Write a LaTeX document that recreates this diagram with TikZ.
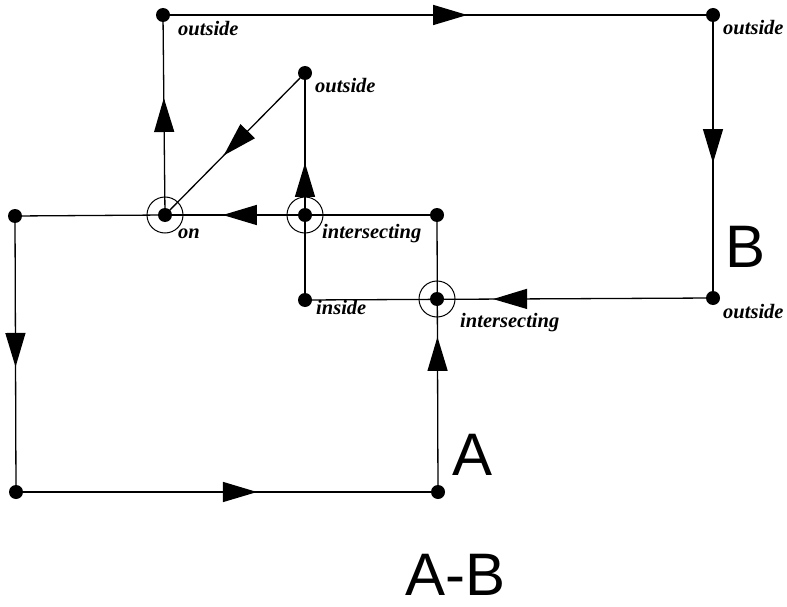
\documentclass[tikz,border=0pt]{standalone}
\usepackage{fontspec}
\setmainfont{Liberation Serif}
\newfontfamily\bigsans{Liberation Sans}
\usetikzlibrary{arrows.meta,decorations.markings}
\begin{document}
\begin{tikzpicture}[x=1pt,y=-1pt,
  edge/.style={line width=1.3pt},
  dot/.style={circle,fill=black,inner sep=0pt,minimum size=14pt},
  ring/.style={circle,draw=black,line width=1pt,inner sep=0pt,minimum size=36pt},
  lbl/.style={anchor=base west,inner sep=0pt,font=\fontsize{20.5}{20.5}\selectfont\bfseries\itshape},
  big/.style={anchor=base west,inner sep=0pt,font=\fontsize{60}{60}\selectfont\bigsans},
  midarrow/.style={decoration={markings,mark=at position #1 with {\arrow{Triangle[length=34pt,width=20pt]}}},postaction={decorate}}]
\useasboundingbox (0,0) rectangle (787,607);
% A polygon
\node[dot] (a1) at (15,216) {};
\node[dot] (a2) at (16,492) {};
\node[dot] (a3) at (438,492) {};
\node[dot] (a4) at (437,215) {};
% B polygon
\node[dot] (b1) at (163,15) {};
\node[dot] (b2) at (713,15) {};
\node[dot] (b3) at (713,298) {};
\node[dot] (ins) at (305,300) {};
\node[dot] (o3) at (305,73) {};
\node[dot] (on) at (165,215) {};
\node[dot] (i1) at (305,215) {};
\node[dot] (i2) at (437,299) {};
\node[ring] (r1) at (on) {};
\node[ring] (r2) at (i1) {};
\node[ring] (r3) at (i2) {};
% A edges
\draw[edge,midarrow=0.547] (a1.center) -- (a2.center);
\draw[edge,midarrow=0.571] (a2.center) -- (a3.center);
\draw[edge,midarrow=0.56] (a3.center) -- (a4.center);
\draw[edge] (a4.center) -- (i1.center);
\draw[edge,midarrow=0.587] (i1.center) -- (on.center);
\draw[edge] (on.center) -- (a1.center);
% B edges
\draw[edge,midarrow=0.553] (b1.center) -- (b2.center);
\draw[edge,midarrow=0.523] (b2.center) -- (b3.center);
\draw[edge,midarrow=0.539] (b3.center) -- (ins.center);
\draw[edge,midarrow=0.604] (ins.center) -- (o3.center);
\draw[edge,midarrow=0.58] (o3.center) -- (on.center);
\draw[edge,midarrow=0.585] (on.center) -- (b1.center);
% labels
\node[lbl] (l1) at (178,36) {outside};
\node[lbl] (l2) at (723,35) {outside};
\node[lbl] (l3) at (315,93) {outside};
\node[lbl] (l4) at (178,238) {on};
\node[lbl] (l5) at (322,238) {intersecting};
\node[lbl] (l6) at (316,314) {inside};
\node[lbl] (l7) at (460,327) {intersecting};
\node[lbl] (l8) at (723,318) {outside};
\node[big] (bA) at (452,475) {A};
\node[big] (bB) at (725,267) {B};
\node[big] (bAB) at (405,595) {A-B};
\end{tikzpicture}
\end{document}
